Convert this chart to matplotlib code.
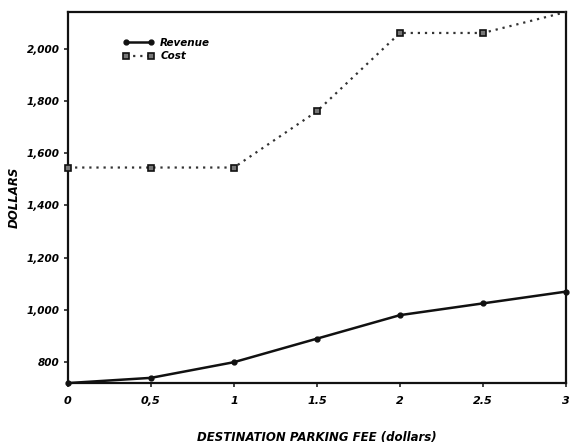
import matplotlib
matplotlib.use("Agg")
import matplotlib.pyplot as plt

# parking fee (dollars) and the two series
fee = [0, 0.5, 1, 1.5, 2, 2.5, 3]
revenue = [720, 740, 800, 890, 980, 1025, 1070]
cost = [1545, 1545, 1545, 1760, 2060, 2060, 2140]

x_ticks = [0, 0.5, 1, 1.5, 2, 2.5, 3]
x_tick_labels = ["0", "0,5", "1", "1.5", "2", "2.5", "3"]
y_ticks = [800, 1000, 1200, 1400, 1600, 1800, 2000]
y_tick_labels = ["800", "1,000", "1,200", "1,400", "1,600", "1,800", "2,000"]

plt.rcParams["font.family"] = ["DejaVu Sans"]
font = dict(fontweight="bold", fontstyle="italic")

fig = plt.figure(figsize=(5.71, 4.47), dpi=100)
ax = fig.add_axes([0.119, 0.143, 0.872, 0.830])

ax.plot(fee, revenue, color="#111111", linewidth=1.8, marker="o", markersize=3.5,
        label="Revenue", clip_on=False, zorder=3)
# last cost marker sits in the corner and is not drawn in the original
ax.plot(fee, cost, color="#333333", linewidth=1.6, linestyle=(0, (1, 2.2)),
        marker="s", markersize=5, markerfacecolor="#777777", markeredgecolor="#111111",
        markeredgewidth=1.2, markevery=list(range(len(fee) - 1)),
        label="Cost", clip_on=False, zorder=3)

ax.set_xlim(0, 3)
ax.set_ylim(720, 2140)
ax.set_xticks(x_ticks)
ax.set_xticklabels(x_tick_labels, fontsize=8, **font)
ax.set_yticks(y_ticks)
ax.set_yticklabels(y_tick_labels, fontsize=7.5, **font)
ax.tick_params(direction="out", length=3, width=1.2, pad=6, color="#222222")
ax.tick_params(axis="y", pad=3)

for side in ["left", "right", "top", "bottom"]:
    ax.spines[side].set_linewidth(1.6)
    ax.spines[side].set_color("#111111")

ax.set_xlabel("DESTINATION PARKING FEE (dollars)", fontsize=8.5, labelpad=18, **font)
ax.set_ylabel("DOLLARS", fontsize=8.5, labelpad=4, **font)

leg = ax.legend(loc="upper left", bbox_to_anchor=(0.11, 0.93), frameon=False,
                borderpad=0, borderaxespad=0, handlelength=3.0, handletextpad=0.6,
                labelspacing=0.3, numpoints=2,
                prop=dict(weight="bold", style="italic", size=7.5))

fig.savefig("out.png", dpi=100)
